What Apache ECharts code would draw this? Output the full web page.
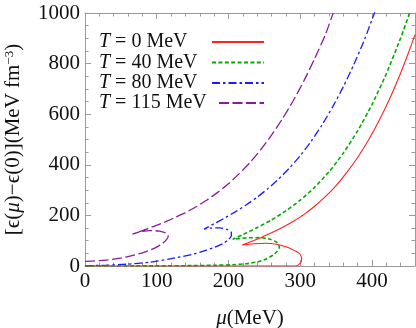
<!DOCTYPE html>
<html><head><meta charset="utf-8">
<script src="https://cdn.jsdelivr.net/npm/echarts@6/dist/echarts.min.js"></script>
<style>html,body{margin:0;padding:0;background:#fff}#c{width:416px;height:328px}</style>
</head><body><div id="c"></div>
<script>
const seriesNames = ['T = 0 MeV', 'T = 40 MeV', 'T = 80 MeV', 'T = 115 MeV'];
const seriesLabels = ['0', '40', '80', '115'];
// [mu (MeV), eps(mu)-eps(0) (MeV fm^-3)]
const curveT0 = [[0,0],[100,0],[200,0],[294,0],[299,8],[302,24],[301,40],[298,51],[289,65],[280,76],[267,86],[252,90],[235,88],[219,83],[230,95],[245,112],[260,131],[275,152],[290,176],[305,203],[320,236],[335,274],[350,318],[365,370],[380,429],[395,497],[410,575],[425,663],[440,763],[450,836],[460,914]];
const curveT40 = [[0,0],[100,0.5],[150,1.5],[180,3],[206,5],[225,9],[240,16],[252,27],[262,43],[268,58],[271,75],[268,92],[258,106],[243,112],[225,111],[206,106],[220,124],[240,152],[260,182],[280,218],[300,260],[320,311],[340,372],[360,446],[380,534],[400,638],[420,760],[440,901],[453,1004]];
const curveT80 = [[0,1],[30,3],[58,7],[90,15],[128,33],[150,46],[164,58],[180,73],[192,88],[200,104],[204,120],[204,132],[198,145],[188,151],[176,150],[166,146],[180,167],[195,190],[210,215],[225,242],[240,272],[255,306],[270,344],[285,387],[300,436],[315,492],[330,556],[345,628],[360,708],[375,798],[390,898],[404,1004]];
const curveT115 = [[0,18],[20,21],[40,27],[60,37],[80,52],[95,68],[106,85],[113,102],[116,118],[113,130],[104,138],[90,140],[76,135],[66,126],[80,140],[95,156],[110,172],[125,191],[140,211],[155,234],[170,261],[185,291],[200,325],[215,365],[230,409],[245,460],[260,517],[275,581],[290,652],[305,731],[320,819],[335,914],[346,1000]];
const xTickValues = [0, 100, 200, 300, 400];
const yTickValues = [0, 200, 400, 600, 800, 1000];

const curves = [curveT0, curveT40, curveT80, curveT115];
const colors = ['#ff2020', '#00aa00', '#1a1aff', '#8b1a9b'];
const dashes = ['solid', [4, 2.4], [8, 3, 2.5, 3], [10, 3.5]];
const widths = [1.1, 1.6, 1.3, 1.3];

const FONT = 'Liberation Serif';
const GRAY = '#9a9a9a';
const chart = echarts.init(document.getElementById('c'), null, {renderer: 'canvas'});

function frameAxis(pos, isX) {
  return {
    type: 'value', min: 0,
    max: isX ? 460 : 1000,
    interval: isX ? 100 : 200,
    position: pos,
    axisLine: {show: true, onZero: false, lineStyle: {color: GRAY, width: 1}},
    axisTick: {show: true, inside: true, length: 6, lineStyle: {color: GRAY, width: 1}},
    minorTick: {show: true, splitNumber: isX ? 5 : 4, length: 3.5, lineStyle: {color: GRAY, width: 1}},
    splitLine: {show: false},
    axisLabel: {show: false}
  };
}

const xBottom = frameAxis('bottom', true);
xBottom.axisLabel = {show: true, color: '#111', fontFamily: FONT, fontSize: 21, margin: 5,
  showMaxLabel: false, formatter: v => xTickValues.includes(v) ? String(v) : ''};
xBottom.name = '{i|μ}(MeV)';
xBottom.nameLocation = 'middle';
xBottom.nameGap = 42;
xBottom.nameTextStyle = {color: '#111', fontFamily: FONT, fontSize: 21,
  rich: {i: {fontStyle: 'italic', fontFamily: FONT, fontSize: 21, color: '#111'}}};
const xTop = frameAxis('top', true);

const yLeft = frameAxis('left', false);
yLeft.axisLabel = {show: true, color: '#111', fontFamily: FONT, fontSize: 21, margin: 5,
  formatter: v => yTickValues.includes(v) ? String(v) : ''};
yLeft.name = '[ϵ({i|μ})−ϵ(0)](MeV fm{s|−3})';
yLeft.nameLocation = 'middle';
yLeft.nameGap = 61;
yLeft.nameTextStyle = {color: '#111', fontFamily: FONT, fontSize: 21,
  rich: {i: {fontStyle: 'italic', fontFamily: FONT, fontSize: 21, color: '#111'},
         s: {fontFamily: FONT, fontSize: 13, color: '#111', verticalAlign: 'top'}}};
const yRight = frameAxis('right', false);

// legend text: pad each entry to a fixed width so text is left aligned and icons line up
const mctx = document.createElement('canvas').getContext('2d');
function textW(s, italic) {
  mctx.font = (italic ? 'italic ' : '') + '20px "' + FONT + '"';
  return mctx.measureText(s).width;
}
const legendBoxW = [108, 108, 108, 115];
const legendRichStyles = {
  i: {fontStyle: 'italic', fontFamily: FONT, fontSize: 20, color: '#111', lineHeight: 20},
  n: {fontFamily: FONT, fontSize: 20, color: '#111', lineHeight: 20}
};
seriesLabels.forEach((lab, k) => {
  const w = legendBoxW[k] - textW('T', true) - textW(' = ' + lab + ' MeV', false);
  legendRichStyles['p' + k] = {width: Math.max(1, w), fontSize: 20, lineHeight: 20, fontFamily: FONT};
});
function legendFmt(name) {
  const k = seriesNames.indexOf(name);
  return '{i|T}{n| = ' + seriesLabels[k] + ' MeV}{p' + k + '| }';
}
const hiddenSymbol = {opacity: 0, borderWidth: 0};

const option = {
  animation: false,
  grid: {left: 85, right: 1, top: 13, bottom: 62, containLabel: false, outerBoundsMode: 'none'},
  xAxis: [xBottom, xTop],
  yAxis: [yLeft, yRight],
  legend: [
    {data: [seriesNames[0], seriesNames[1], seriesNames[2]], orient: 'vertical', align: 'right',
     left: 99, top: 32, padding: 0, itemGap: 0.5, itemWidth: 52, itemHeight: 12,
     selectedMode: false, formatter: legendFmt, itemStyle: hiddenSymbol,
     textStyle: {rich: legendRichStyles, fontFamily: FONT, fontSize: 20}},
    {data: [seriesNames[3]], orient: 'vertical', align: 'right',
     left: 99, top: 93, padding: 0, itemGap: 0.5, itemWidth: 45, itemHeight: 12,
     selectedMode: false, formatter: legendFmt, itemStyle: hiddenSymbol,
     textStyle: {rich: legendRichStyles, fontFamily: FONT, fontSize: 20}}
  ],
  series: curves.map((d, k) => ({
    name: seriesNames[k], type: 'line', data: d, xAxisIndex: 0, yAxisIndex: 0,
    symbol: 'none', showSymbol: false, smooth: 0.2, clip: true,
    lineStyle: {color: colors[k], width: widths[k], type: dashes[k]},
    itemStyle: {color: colors[k]}, z: 10 - k
  }))
};
chart.setOption(option);
</script></body></html>
